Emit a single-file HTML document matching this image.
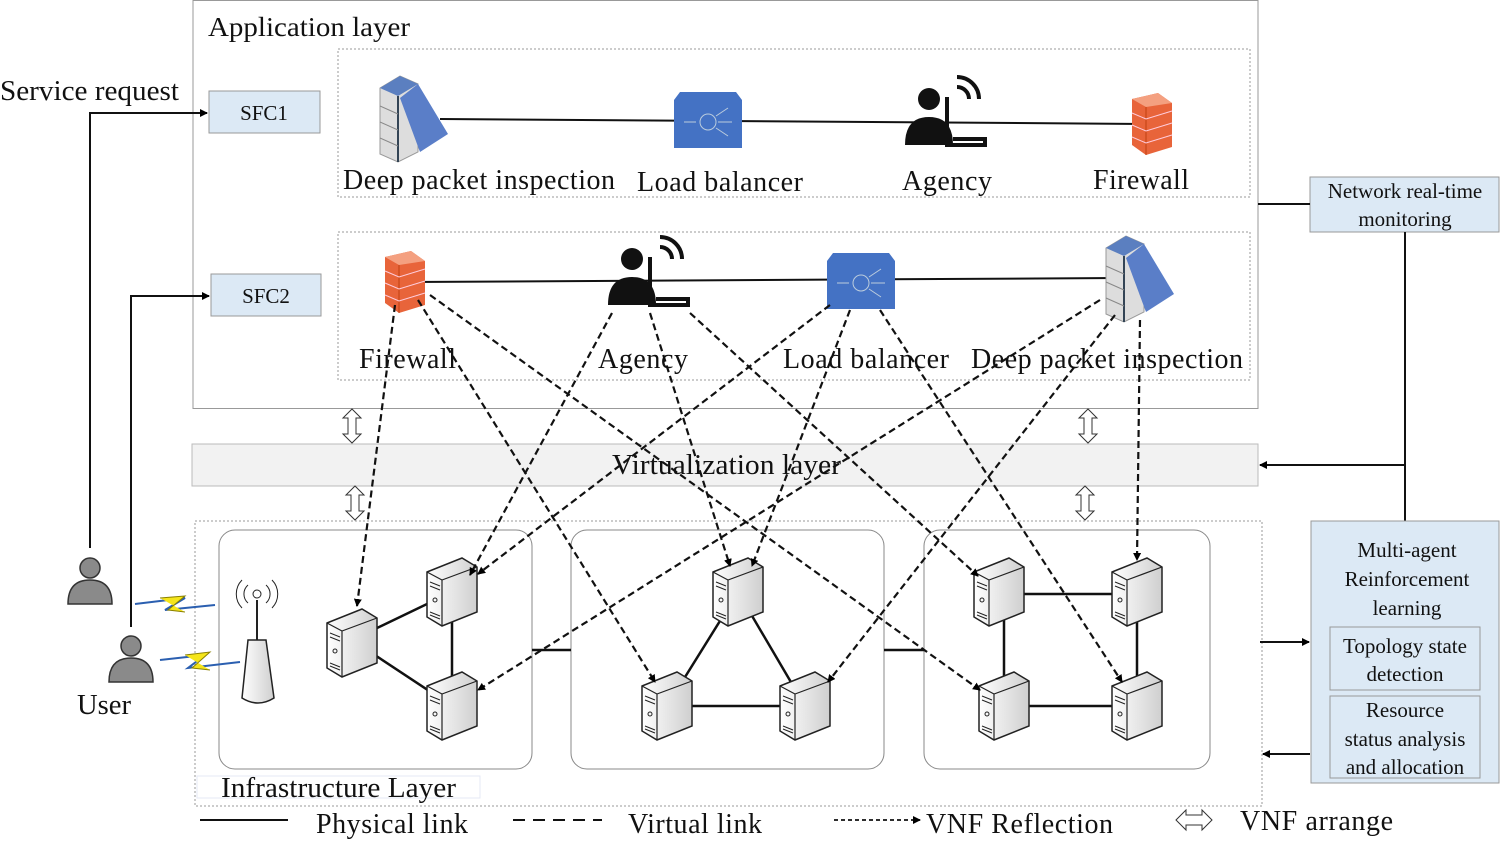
<!DOCTYPE html><html><head><style>body{margin:0;background:#fff}svg{display:block}text{font-family:"Liberation Serif",serif;fill:#111}</style></head><body>
<svg width="1500" height="843" viewBox="0 0 1500 843" xmlns="http://www.w3.org/2000/svg">
<defs>
<marker id="ah" markerWidth="8" markerHeight="8" refX="7" refY="4" orient="auto" markerUnits="userSpaceOnUse"><path d="M0,0L8,4L0,8z" fill="#000"/></marker>
<linearGradient id="sg" x1="0" x2="1"><stop offset="0" stop-color="#fff"/><stop offset="1" stop-color="#cfcfcf"/></linearGradient>
<g id="srv"><path d="M-25,-20L10,-34L25,-25L25,20L-10,34L-25,25Z" fill="url(#sg)" stroke="#222" stroke-width="1.5"/><path d="M-25,-20L-10,-12L25,-25M-10,-12L-10,34" fill="none" stroke="#222" stroke-width="1.2"/><path d="M-22,-10l10,4M-22,-6l10,4M-22,20l10,4M-22,23l10,4" stroke="#222"/><circle cx="-17" cy="8" r="2" fill="none" stroke="#222"/></g>
<g id="dbl"><path d="M-4,-8L-4,8L-9,8L0,17L9,8L4,8L4,-8L9,-8L0,-17L-9,-8Z" fill="#fff" stroke="#333"/></g>
<g id="fw"><path d="M-18,-24L8,-30L22,-20L22,24L-4,32L-18,22Z" fill="#e8643a"/><path d="M-4,-16L-4,32" stroke="#c04010"/><path d="M-18,-24L8,-30L22,-20L-4,-16Z" fill="#f4a080"/><path d="M-18,-10L-4,-4L22,-12M-18,2L-4,8L22,0M-18,14L-4,20L22,12" stroke="#fcd" fill="none"/></g>
<g id="lb"><path d="M-34,-22L-28,-30L28,-30L34,-22L34,26L-34,26Z" fill="#4472c4"/><circle cx="0" cy="0" r="8" fill="none" stroke="#bcd"/><path d="M-24,0h12M10,0h14M8,-6l12,-8M8,6l12,8" stroke="#bcd"/></g>
<g id="ag"><circle cx="-16" cy="-16" r="11" fill="#111"/><path d="M-40,30Q-40,2 -16,2Q8,2 8,30Z" fill="#111"/><path d="M2,-18V30H40V24H8" stroke="#111" stroke-width="4" fill="none"/><path d="M12,-28a12,12 0 0 1 12,12M12,-38a22,22 0 0 1 22,22" stroke="#111" stroke-width="4" fill="none"/></g>
<g id="dpi"><path d="M-30,-30L-10,-42L8,-34L8,34L-12,44L-30,36Z" fill="#ddd" stroke="#999"/><path d="M-30,-30L-10,-42L8,-34L-12,-22Z" fill="#5b7fc0"/><path d="M-12,-22L-12,44" stroke="#345" stroke-width="2"/><path d="M-10,-20L8,-34L38,16L10,34Z" fill="#5a7ec8"/><path d="M-30,-12L-12,-4M-30,4L-12,12M-30,20L-12,28" stroke="#888"/></g>
<g id="usr"><circle cx="0" cy="-12" r="10" fill="#8a8a8a" stroke="#333" stroke-width="1.5"/><path d="M-22,24Q-22,0 0,0Q22,0 22,24Z" fill="#8a8a8a" stroke="#333" stroke-width="1.5"/></g>
</defs>
<rect x="193" y="0.5" width="1065" height="408" fill="none" stroke="#999"/>
<text x="208" y="36" font-size="27" textLength="202" lengthAdjust="spacingAndGlyphs">Application layer</text>
<rect x="338" y="49" width="912" height="148" fill="none" stroke="#999" stroke-dasharray="2,2"/>
<rect x="338" y="232" width="912" height="148" fill="none" stroke="#999" stroke-dasharray="2,2"/>
<rect x="209" y="91" width="111" height="42" fill="#dce9f5" stroke="#999"/><text x="264" y="120" font-size="21" text-anchor="middle">SFC1</text>
<rect x="211" y="274" width="110" height="42" fill="#dce9f5" stroke="#999"/><text x="266" y="303" font-size="21" text-anchor="middle">SFC2</text>
<path d="M440,119L1152,124" stroke="#111" stroke-width="2"/>
<path d="M410,282L1120,278" stroke="#111" stroke-width="2"/>
<use href="#dpi" x="410" y="118"/><use href="#lb" x="708" y="122"/><use href="#ag" x="945" y="115"/><use href="#fw" x="1150" y="123"/>
<use href="#fw" x="403" y="281"/><use href="#ag" x="648" y="275"/><use href="#lb" x="861" y="283"/><use href="#dpi" x="1136" y="278"/>
<g font-size="28" lengthAdjust="spacingAndGlyphs"><text x="343" y="189" textLength="272">Deep packet inspection</text><text x="637" y="191" textLength="166">Load balancer</text><text x="902" y="190" textLength="90">Agency</text><text x="1093" y="189" textLength="96">Firewall</text>
<text x="359" y="368" textLength="97">Firewall</text><text x="598" y="368" textLength="90">Agency</text><text x="783" y="368" textLength="166">Load balancer</text><text x="971" y="368" textLength="272">Deep packet inspection</text></g>
<rect x="192" y="444" width="1066" height="42" fill="#f2f2f2" stroke="#bbb"/>
<text x="612" y="474" font-size="28" textLength="229" lengthAdjust="spacingAndGlyphs">Virtualization layer</text>
<use href="#dbl" x="352" y="426"/><use href="#dbl" x="1088" y="426"/><use href="#dbl" x="355" y="503"/><use href="#dbl" x="1085" y="503"/>
<rect x="195" y="521" width="1067" height="285" fill="none" stroke="#999" stroke-dasharray="2,2"/>
<rect x="219" y="530" width="313" height="239" rx="16" fill="none" stroke="#888"/>
<rect x="571" y="530" width="313" height="239" rx="16" fill="none" stroke="#888"/>
<rect x="924" y="530" width="286" height="239" rx="16" fill="none" stroke="#888"/>
<rect x="197" y="776" width="283" height="22" fill="#fff" stroke="#e6e8f4"/>
<text x="221" y="797" font-size="28" textLength="235" lengthAdjust="spacingAndGlyphs">Infrastructure Layer</text>
<g stroke="#111" stroke-width="2.5" fill="none">
<path d="M532,650H571M884,650H924"/>
<path d="M352,640L452,592L452,706L352,640"/>
<path d="M738,592L667,706H805Z"/>
<path d="M999,594H1137V706H1004V594"/>
</g>
<use href="#srv" x="352" y="643"/><use href="#srv" x="452" y="592"/><use href="#srv" x="452" y="706"/>
<use href="#srv" x="738" y="592"/><use href="#srv" x="667" y="706"/><use href="#srv" x="805" y="706"/>
<use href="#srv" x="999" y="592"/><use href="#srv" x="1137" y="592"/><use href="#srv" x="1004" y="706"/><use href="#srv" x="1137" y="706"/>
<path d="M248,640L266,640L274,698Q258,708 242,698Z" fill="url(#sg)" stroke="#222" stroke-width="1.5"/>
<path d="M257,600V640" stroke="#222" stroke-width="2"/><circle cx="257" cy="594" r="4" fill="#fff" stroke="#222"/>
<path d="M248,585a12,12 0 0 0 0,18M266,585a12,12 0 0 1 0,18M242,580a20,20 0 0 0 0,28M272,580a20,20 0 0 1 0,28" fill="none" stroke="#222"/>
<path d="M135,604L185,598L165,610L215,605" stroke="#2b5fb0" stroke-width="2" fill="none"/><path d="M160,598L185,596L168,610L185,612" fill="#f5e51a" stroke="#8a8000"/>
<path d="M160,660L205,655L188,668L240,662" stroke="#2b5fb0" stroke-width="2" fill="none"/><path d="M185,655L210,652L192,668L210,670" fill="#f5e51a" stroke="#8a8000"/>
<g stroke="#111" stroke-width="2.2" stroke-dasharray="7,4" fill="none" marker-end="url(#ah)">
<path d="M395,305L357,606"/><path d="M418,300L655,682"/><path d="M430,295L980,690"/>
<path d="M612,313L470,575"/><path d="M650,313L730,566"/><path d="M690,313L978,576"/>
<path d="M830,305L478,574"/><path d="M850,310L752,566"/><path d="M880,310L1122,682"/>
<path d="M1100,300L478,690"/><path d="M1115,315L828,682"/><path d="M1140,320L1137,560"/>
</g>
<text x="0" y="100" font-size="28" textLength="179" lengthAdjust="spacingAndGlyphs">Service request</text>
<path d="M90,548V113H207" stroke="#111" stroke-width="2" fill="none" marker-end="url(#ah)"/>
<path d="M131,627V296H209" stroke="#111" stroke-width="2" fill="none" marker-end="url(#ah)"/>
<use href="#usr" x="90" y="580"/><use href="#usr" x="131" y="658"/>
<text x="77" y="714" font-size="28" textLength="54" lengthAdjust="spacingAndGlyphs">User</text>
<rect x="1310" y="177" width="189" height="55" fill="#dce9f5" stroke="#999"/>
<text x="1405" y="198" font-size="21" text-anchor="middle">Network real-time</text><text x="1405" y="226" font-size="21" text-anchor="middle">monitoring</text>
<path d="M1258,204H1310M1405,232V521" stroke="#111" stroke-width="2"/>
<path d="M1405,465H1260" stroke="#111" stroke-width="2" marker-end="url(#ah)"/>
<rect x="1311" y="521" width="188" height="262" fill="#dce9f5" stroke="#999"/>
<g font-size="21" text-anchor="middle"><text x="1407" y="557">Multi-agent</text><text x="1407" y="586">Reinforcement</text><text x="1407" y="615">learning</text>
<rect x="1330" y="627" width="150" height="63" fill="none" stroke="#999"/><text x="1405" y="653">Topology state</text><text x="1405" y="681">detection</text>
<rect x="1330" y="696" width="150" height="82" fill="none" stroke="#999"/><text x="1405" y="717">Resource</text><text x="1405" y="746">status analysis</text><text x="1405" y="774">and allocation</text></g>
<path d="M1260,642H1309" stroke="#111" stroke-width="2" marker-end="url(#ah)"/>
<path d="M1310,754H1263" stroke="#111" stroke-width="2" marker-end="url(#ah)"/>
<g font-size="28" lengthAdjust="spacingAndGlyphs">
<path d="M200,820H288" stroke="#111" stroke-width="2"/><text x="316" y="833" textLength="152">Physical link</text>
<path d="M513,820H602" stroke="#111" stroke-width="2" stroke-dasharray="12,8"/><text x="628" y="833" textLength="134">Virtual link</text>
<path d="M834,820H920" stroke="#111" stroke-width="1.8" stroke-dasharray="4,3" marker-end="url(#ah)"/><text x="926" y="833" textLength="187">VNF Reflection</text>
<path d="M1176,820L1186,810V815H1202V810L1212,820L1202,830V825H1186V830Z" fill="#fff" stroke="#333"/><text x="1240" y="830" textLength="153">VNF arrange</text></g>
</svg></body></html>
